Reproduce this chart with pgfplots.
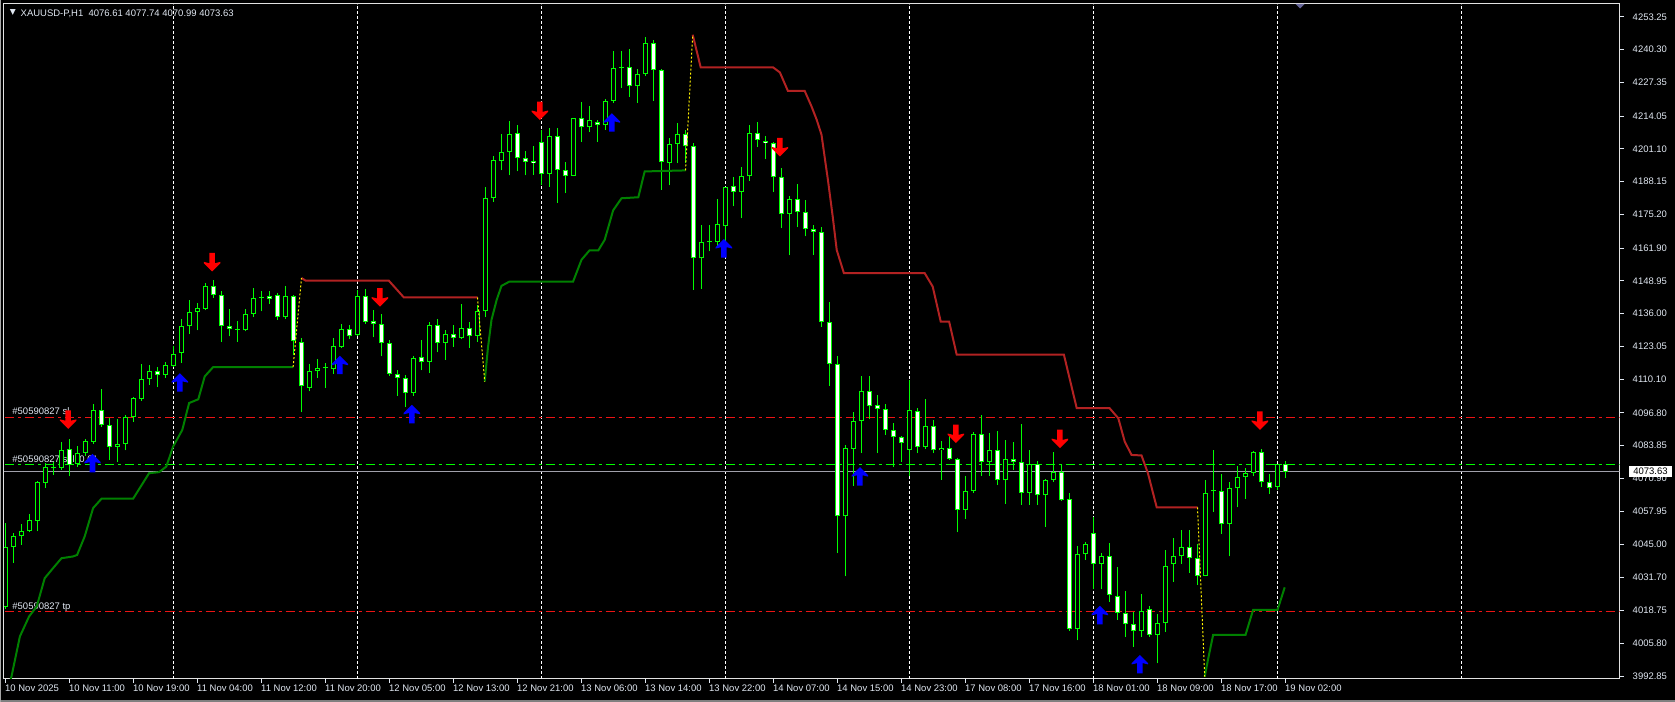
\documentclass[border=0pt]{standalone}
\usepackage{fontspec}
\setmainfont{Liberation Sans}
\newfontfamily\dejavu{DejaVu Sans}
\usepackage{pgfplots}
\usepackage{pgfplotstable}
\pgfplotsset{compat=1.18}

\definecolor{cgreen}{RGB}{0,255,0}
\definecolor{cres}{RGB}{178,34,34}
\definecolor{csup}{RGB}{0,128,0}
\definecolor{ctext}{RGB}{225,232,242}
\definecolor{cframe}{RGB}{225,225,225}
\definecolor{cbid}{RGB}{160,160,170}
\definecolor{cblue}{RGB}{0,0,255}
\definecolor{ctrade}{RGB}{235,20,20}

\newcommand\fs{\fontsize{2.7pt}{3pt}\selectfont}

\pgfdeclareplotmark{dnarr}{%
  \pgfpathmoveto{\pgfpoint{0mm}{0mm}}%
  \pgfpathlineto{\pgfpoint{-0.82mm}{0.82mm}}%
  \pgfpathlineto{\pgfpoint{-0.82mm}{0.95mm}}%
  \pgfpathlineto{\pgfpoint{-0.28mm}{0.82mm}}%
  \pgfpathlineto{\pgfpoint{-0.28mm}{1.85mm}}%
  \pgfpathlineto{\pgfpoint{0.28mm}{1.85mm}}%
  \pgfpathlineto{\pgfpoint{0.28mm}{0.82mm}}%
  \pgfpathlineto{\pgfpoint{0.82mm}{0.95mm}}%
  \pgfpathlineto{\pgfpoint{0.82mm}{0.82mm}}%
  \pgfpathclose
  \pgfusepathqfill}
\pgfdeclareplotmark{uparr}{%
  \pgfpathmoveto{\pgfpoint{0mm}{0mm}}%
  \pgfpathlineto{\pgfpoint{-0.82mm}{-0.82mm}}%
  \pgfpathlineto{\pgfpoint{-0.82mm}{-0.95mm}}%
  \pgfpathlineto{\pgfpoint{-0.28mm}{-0.82mm}}%
  \pgfpathlineto{\pgfpoint{-0.28mm}{-1.85mm}}%
  \pgfpathlineto{\pgfpoint{0.28mm}{-1.85mm}}%
  \pgfpathlineto{\pgfpoint{0.28mm}{-0.82mm}}%
  \pgfpathlineto{\pgfpoint{0.82mm}{-0.95mm}}%
  \pgfpathlineto{\pgfpoint{0.82mm}{-0.82mm}}%
  \pgfpathclose
  \pgfusepathqfill}

\pgfplotstableread{
i o h l c
0 4020.3 4053.3 4019.5 4044.0
1 4044.0 4049.3 4037.7 4048.2
2 4048.0 4052.9 4044.7 4050.2
3 4050.0 4056.9 4049.7 4054.6
4 4054.2 4070.0 4050.0 4069.5
5 4069.3 4077.0 4067.1 4075.4
6 4075.0 4077.6 4072.4 4075.5
7 4075.2 4085.5 4074.3 4082.0
8 4082.5 4086.6 4071.7 4076.3
9 4076.7 4083.8 4075.6 4080.9
10 4080.9 4086.4 4079.9 4085.7
11 4085.5 4100.4 4084.6 4097.8
12 4097.8 4106.3 4091.4 4092.0
13 4092.0 4094.7 4078.3 4083.5
14 4083.5 4094.3 4077.6 4084.6
15 4084.6 4096.1 4082.0 4095.1
16 4095.1 4103.0 4093.4 4102.6
17 4102.4 4116.2 4101.7 4110.1
18 4110.1 4115.6 4107.9 4113.2
19 4113.2 4114.9 4107.0 4111.9
20 4111.9 4116.9 4110.5 4115.6
21 4115.2 4123.1 4114.9 4120.0
22 4120.4 4134.0 4116.5 4131.0
23 4131.0 4141.5 4128.1 4136.6
24 4136.6 4140.2 4129.4 4138.2
25 4137.9 4148.3 4137.3 4146.8
26 4146.8 4149.4 4142.2 4143.5
27 4143.2 4144.8 4124.8 4131.2
28 4131.1 4137.8 4127.0 4129.9
29 4129.6 4133.2 4125.0 4129.9
30 4129.4 4137.8 4129.0 4135.8
31 4135.9 4146.1 4134.6 4142.2
32 4142.2 4144.8 4136.9 4142.3
33 4143.1 4144.8 4139.9 4142.0
34 4143.2 4144.1 4133.6 4134.6
35 4134.5 4147.0 4133.9 4142.8
36 4142.8 4143.5 4119.8 4125.3
37 4125.0 4126.3 4097.0 4107.3
38 4106.6 4116.2 4105.3 4113.2
39 4113.2 4118.2 4110.5 4114.5
40 4114.4 4116.5 4106.6 4114.5
41 4114.1 4126.3 4112.2 4123.3
42 4123.0 4132.0 4122.4 4129.9
43 4129.9 4131.6 4125.9 4127.0
44 4127.4 4145.2 4127.0 4143.1
45 4143.1 4145.7 4132.0 4132.9
46 4133.0 4137.5 4126.6 4131.9
47 4132.0 4135.9 4119.1 4124.3
48 4124.3 4125.7 4111.4 4112.1
49 4112.1 4113.6 4103.5 4110.5
50 4110.5 4111.8 4099.3 4104.6
51 4104.6 4119.4 4103.5 4118.4
52 4118.8 4125.7 4113.6 4117.1
53 4117.1 4132.6 4112.5 4131.6
54 4131.6 4133.9 4120.7 4124.6
55 4124.6 4129.6 4117.8 4128.0
56 4127.9 4131.6 4123.0 4126.3
57 4126.3 4139.9 4125.9 4130.3
58 4130.3 4132.6 4122.6 4127.3
59 4127.3 4139.5 4125.0 4136.9
60 4136.9 4186.2 4134.6 4181.6
61 4181.6 4198.1 4180.3 4196.8
62 4196.5 4207.1 4192.6 4199.8
63 4199.8 4212.2 4190.6 4207.1
64 4207.3 4210.6 4192.2 4197.4
65 4197.4 4200.1 4190.6 4196.1
66 4196.3 4202.3 4190.9 4195.5
67 4203.8 4208.6 4186.9 4191.1
68 4191.1 4209.3 4186.2 4206.0
69 4206.0 4209.3 4179.9 4192.8
70 4192.6 4196.1 4183.6 4190.5
71 4190.5 4213.5 4190.2 4213.3
72 4213.3 4219.7 4203.8 4209.7
73 4209.7 4218.1 4207.7 4212.6
74 4211.9 4212.6 4203.8 4210.6
75 4210.4 4220.8 4208.6 4220.2
76 4220.2 4239.9 4219.2 4233.0
77 4233.0 4239.9 4225.1 4233.3
78 4233.3 4240.6 4221.8 4226.0
79 4225.8 4232.7 4219.4 4230.6
80 4230.6 4245.5 4230.0 4242.9
81 4242.9 4244.2 4220.2 4232.3
82 4232.3 4232.6 4184.9 4195.9
83 4195.5 4205.4 4186.7 4203.0
84 4203.0 4211.3 4195.5 4206.9
85 4206.9 4208.6 4195.5 4202.1
86 4202.1 4203.4 4145.4 4157.9
87 4157.9 4171.1 4145.8 4164.3
88 4164.3 4171.1 4160.6 4164.4
89 4164.3 4181.4 4162.6 4171.4
90 4170.5 4186.0 4163.0 4186.0
91 4186.3 4190.0 4178.4 4184.0
92 4184.0 4193.9 4173.7 4190.2
93 4190.2 4210.6 4188.6 4207.3
94 4207.3 4211.7 4201.8 4204.7
95 4204.4 4206.3 4197.1 4203.4
96 4203.4 4204.0 4184.0 4190.0
97 4190.0 4193.5 4169.8 4175.5
98 4175.5 4182.6 4159.0 4181.4
99 4181.4 4187.3 4170.2 4176.1
100 4176.1 4181.0 4166.5 4169.4
101 4169.4 4171.1 4159.3 4168.2
102 4168.2 4170.2 4130.9 4132.9
103 4132.9 4140.6 4107.5 4116.1
104 4116.1 4119.4 4041.4 4055.9
105 4055.9 4084.2 4032.2 4082.9
106 4082.5 4097.0 4068.0 4093.7
107 4093.7 4111.5 4080.9 4105.5
108 4105.5 4111.2 4094.3 4099.7
109 4100.0 4104.0 4080.9 4098.3
110 4098.3 4100.4 4088.1 4090.1
111 4090.1 4092.7 4075.6 4087.2
112 4087.2 4087.5 4077.6 4084.9
113 4082.2 4109.9 4071.7 4098.0
114 4097.6 4098.7 4080.9 4083.3
115 4083.3 4102.4 4082.5 4091.7
116 4091.7 4094.1 4080.9 4082.0
117 4082.0 4085.9 4070.4 4082.9
118 4082.9 4087.5 4078.3 4078.5
119 4078.5 4078.9 4049.6 4058.5
120 4058.5 4071.9 4054.8 4065.8
121 4065.8 4089.2 4065.1 4088.4
122 4088.4 4096.0 4071.9 4077.3
123 4077.3 4089.0 4071.9 4082.1
124 4082.1 4089.7 4068.4 4070.2
125 4070.2 4086.1 4060.9 4078.5
126 4078.5 4085.5 4074.3 4077.3
127 4077.3 4092.5 4060.5 4065.3
128 4065.3 4082.2 4060.5 4076.5
129 4076.5 4077.8 4060.5 4064.2
130 4064.2 4070.6 4051.9 4070.3
131 4070.3 4081.2 4069.7 4073.6
132 4073.6 4076.7 4062.2 4062.4
133 4062.7 4065.1 4010.8 4011.3
134 4011.3 4044.4 4006.9 4041.0
135 4041.0 4046.0 4038.7 4044.9
136 4049.5 4055.6 4027.1 4037.2
137 4037.2 4041.4 4027.1 4040.3
138 4040.4 4045.3 4022.3 4024.9
139 4024.6 4035.8 4015.0 4017.7
140 4017.7 4026.5 4008.4 4013.3
141 4013.3 4018.1 4004.5 4010.7
142 4010.7 4025.3 4008.2 4018.7
143 4019.2 4020.5 4008.4 4009.1
144 4009.1 4017.4 3997.9 4013.7
145 4013.7 4042.7 4010.4 4036.5
146 4037.0 4047.3 4030.2 4040.1
147 4040.1 4050.6 4037.2 4044.0
148 4044.0 4050.6 4033.7 4039.4
149 4039.4 4045.1 4028.9 4032.4
150 4032.4 4070.3 4032.2 4065.1
151 4065.8 4082.2 4057.8 4065.9
152 4066.0 4072.7 4049.0 4052.8
153 4052.8 4069.7 4040.1 4067.0
154 4067.0 4075.9 4059.5 4071.4
155 4071.4 4074.9 4062.8 4073.0
156 4073.0 4081.9 4071.7 4081.3
157 4081.3 4082.5 4067.4 4069.4
158 4069.7 4072.6 4064.8 4067.3
159 4067.7 4076.7 4066.4 4076.5
160 4076.61 4077.74 4070.99 4073.63
}\ohlc

\begin{document}
\begin{tikzpicture}
\useasboundingbox (0,0) rectangle (167.5mm,70.2mm);
\fill[black] (0,0) rectangle (167.5mm,70.2mm);
\draw[gray, line width=0.15mm] (0,0.08mm) -- (167.5mm,0.08mm);
\draw[gray!70, line width=0.12mm] (0.06mm,0) -- (0.06mm,70.2mm);
\begin{axis}[
  at={(0.4mm,2.3mm)}, anchor=south west,
  scale only axis, width=161.55mm, height=67.5mm,
  xmin=-0.1875, xmax=201.75, ymin=3991.74, ymax=4258.4,
  axis line style={cframe, line width=0.1mm},
  tick align=outside, major tick length=0.4mm,
  tick style={ctext, line width=0.1mm},
  xtick pos=left, ytick pos=right, yticklabel pos=right,
  xtick={0,8,...,160},
  xticklabels={10 Nov 2025,10 Nov 11:00,10 Nov 19:00,11 Nov 04:00,11 Nov 12:00,11 Nov 20:00,12 Nov 05:00,12 Nov 13:00,12 Nov 21:00,13 Nov 06:00,13 Nov 14:00,13 Nov 22:00,14 Nov 07:00,14 Nov 15:00,14 Nov 23:00,17 Nov 08:00,17 Nov 16:00,18 Nov 01:00,18 Nov 09:00,18 Nov 17:00,19 Nov 02:00},
  xticklabel style={anchor=north west, inner sep=0pt, font=\fs, text=ctext, xshift=-0.1mm, yshift=-0.15mm},
  ytick={4253.25,4240.30,4227.35,4214.05,4201.10,4188.15,4175.20,4161.90,4148.95,4136.00,4123.05,4110.10,4096.80,4083.85,4070.90,4057.95,4045.00,4031.70,4018.75,4005.80,3992.85},
  yticklabels={4253.25,4240.30,4227.35,4214.05,4201.10,4188.15,4175.20,4161.90,4148.95,4136.00,4123.05,4110.10,4096.80,4083.85,4070.90,4057.95,4045.00,4031.70,4018.75,4005.80,3992.85},
  yticklabel style={anchor=west, inner sep=0pt, font=\fs, text=ctext, xshift=0.85mm},
  extra x ticks={21,44,67,90,113,136,159,182},
  extra x tick labels={},
  extra x tick style={grid=major, major tick length=0pt,
    major grid style={white, line width=0.1mm, dash pattern=on 0.3mm off 0.2mm}},
]
% trade lines
\addplot[ctrade, line width=0.1mm, dash pattern=on 0.9mm off 0.4mm on 0.3mm off 0.4mm] coordinates {(0,4095.1) (201.75,4095.1)};
\addplot[cgreen, line width=0.1mm, dash pattern=on 0.9mm off 0.4mm on 0.3mm off 0.4mm] coordinates {(0,4076.6) (201.75,4076.6)};
\addplot[cbid, line width=0.1mm] coordinates {(-1,4073.63) (202,4073.63)};
\addplot[ctrade, line width=0.1mm, dash pattern=on 0.9mm off 0.4mm on 0.3mm off 0.4mm] coordinates {(0,4018.2) (201.75,4018.2)};
\node[anchor=base west, inner sep=0pt, font=\fs, text=ctext] at (axis cs:0.78,4096.05) {\#50590827 sl};
\node[anchor=base west, inner sep=0pt, font=\fs, text=ctext] at (axis cs:0.78,4077.4) {\#50590827 sell 0.01};
\node[anchor=base west, inner sep=0pt, font=\fs, text=ctext] at (axis cs:0.78,4019.0) {\#50590827 tp};
\coordinate (bid) at (axis cs:201.75,4073.63);

% candles: wicks
\addplot[draw=none, mark=none, forget plot, error bars/.cd, y dir=plus, y explicit, error mark=none,
  error bar style={draw=cgreen, line width=0.1mm}]
  table[x=i, y=l, y error expr=\thisrow{h}-\thisrow{l}] {\ohlc};
% body outline
\addplot[draw=none, mark=none, forget plot, error bars/.cd, y dir=plus, y explicit, error mark=none,
  error bar style={draw=cgreen, line width=0.5mm}]
  table[x=i, y expr={min(\thisrow{o},\thisrow{c})}, y error expr={max(abs(\thisrow{c}-\thisrow{o}),0.4)}] {\ohlc};
% bearish fill
\addplot[draw=none, mark=none, forget plot, error bars/.cd, y dir=plus, y explicit, error mark=none,
  error bar style={draw=white, line width=0.3mm}]
  table[x=i, y expr={ifthenelse(\thisrow{c}<\thisrow{o},\thisrow{c}+0.395,0)}, y error expr={ifthenelse(\thisrow{c}<\thisrow{o},max(\thisrow{o}-\thisrow{c}-0.79,0),0)}] {\ohlc};
% bullish fill
\addplot[draw=none, mark=none, forget plot, error bars/.cd, y dir=plus, y explicit, error mark=none,
  error bar style={draw=black, line width=0.3mm}]
  table[x=i, y expr={ifthenelse(\thisrow{c}>\thisrow{o},\thisrow{o}+0.395,0)}, y error expr={ifthenelse(\thisrow{c}>\thisrow{o},max(\thisrow{c}-\thisrow{o}-0.79,0),0)}] {\ohlc};

% support (green) lines
\addplot[csup, line width=0.2mm] coordinates {(0,3984) (0.75,3992.7) (1.8,4008.5) (2.95,4016.4) (3.9,4020.3) (4.9,4031.5) (5.95,4035.5) (7,4039.4) (8.45,4040.1) (8.95,4040.7) (9.9,4048.0) (10.95,4059.2) (12,4062.9) (15.95,4062.9) (17.95,4073.0) (19.2,4073.4) (20.1,4075.6) (20.95,4083.5) (22.1,4090.1) (22.95,4100.7) (24.1,4102.2) (24.9,4111.2) (25.95,4114.9) (35.95,4114.9)};
\addplot[csup, line width=0.2mm] coordinates {(59.9,4109.2) (60.3,4122.4) (60.75,4133.6) (61.4,4141.5) (62.0,4147.0) (63.0,4148.7) (70.95,4148.7) (72.0,4157.3) (73.0,4161.0) (74.1,4161.0) (74.9,4165.2) (75.95,4176.8) (77.0,4181.6) (79.1,4182.0) (79.9,4192.2) (85.0,4192.6)};
\addplot[csup, line width=0.2mm] coordinates {(149.9,3992.6) (150.3,3999.2) (150.95,4009.1) (155.0,4009.1) (155.95,4019.0) (159.0,4019.0) (159.9,4027.9)};
% resistance (red) lines
\addplot[cres, line width=0.2mm] coordinates {(37.0,4150.1) (37.5,4149.1) (47.9,4149.1) (49.8,4142.4) (59.0,4142.4)};
\addplot[cres, line width=0.2mm] coordinates {(85.9,4246.2) (86.9,4233.3) (95.95,4233.3) (96.8,4231.3) (97.8,4224.0) (99.9,4224.0) (100.75,4217.9) (101.4,4212.6) (102.0,4206.7) (102.5,4195.5) (102.8,4188.9) (103.4,4174.4) (103.9,4161.2) (104.8,4152.0) (114.9,4152.0) (115.9,4146.7) (116.9,4132.9) (117.95,4132.9) (118.9,4119.8) (132.3,4119.8) (133.9,4098.7) (138.0,4098.7) (139.1,4094.7) (139.9,4085.5) (140.75,4080.2) (142.0,4080.0) (142.8,4073.0) (143.9,4059.5) (149.0,4059.5)};
% switch lines (yellow dotted)
\addplot[yellow, line width=0.1mm, dash pattern=on 0.2mm off 0.2mm] coordinates {(35.95,4114.9) (37.0,4150.1)};
\addplot[yellow, line width=0.1mm, dash pattern=on 0.2mm off 0.2mm] coordinates {(59.0,4142.4) (59.9,4109.2)};
\addplot[yellow, line width=0.1mm, dash pattern=on 0.2mm off 0.2mm] coordinates {(85.0,4192.6) (85.9,4246.2)};
\addplot[yellow, line width=0.1mm, dash pattern=on 0.2mm off 0.2mm] coordinates {(149.0,4059.5) (149.9,3992.6)};

% signal arrows
\addplot[only marks, mark=dnarr, color=red, mark options={fill=red, draw=none}] coordinates {(7.83,4090.5) (25.83,4152.7) (46.8,4138.8) (66.8,4212.5) (96.8,4198.1) (118.8,4084.9) (131.8,4082.9) (156.8,4090.1)};
\addplot[only marks, mark=uparr, color=cblue, mark options={fill=cblue, draw=none}] coordinates {(10.87,4080.6) (21.8,4112.5) (41.8,4119.4) (50.8,4100.0) (75.8,4215.2) (89.8,4165.5) (106.8,4075.4) (136.8,4020.6) (141.8,4001.2)};
\end{axis}
\node[anchor=west, fill=white, text=black, font=\fs, inner sep=0pt, minimum height=1.1mm, minimum width=4.3mm] at ([xshift=0.88mm]bid) {4073.63};
\node[anchor=base west, inner sep=0pt, font=\fs, text=ctext] at (2.0mm,68.53mm) {XAUUSD-P,H1\ \ 4076.61 4077.74 4070.99 4073.63};
\node[inner sep=0pt, font=\dejavu\fontsize{2.2pt}{2.4pt}\selectfont, text=ctext] at (1.28mm,68.9mm) {▼};
\fill[gray!80!blue] (129.55mm,69.8mm) -- (130.45mm,69.8mm) -- (130mm,69.35mm) -- cycle;
\end{tikzpicture}
\end{document}
